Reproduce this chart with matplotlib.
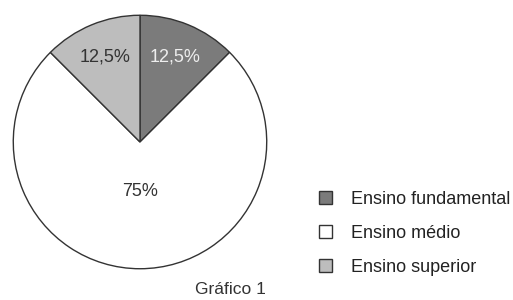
import numpy as np
import matplotlib.pyplot as plt

plt.rcParams['font.family'] = ['Liberation Sans', 'DejaVu Sans']

labels = ['Ensino fundamental', 'Ensino médio', 'Ensino superior']
values = [12.5, 75, 12.5]
pct_text = ['12,5%', '75%', '12,5%']
colors = ['#7b7b7b', '#ffffff', '#bdbdbd']
text_colors = ['#eeeeee', '#333333', '#333333']
label_dist = [0.73, 0.39, 0.73]

fig = plt.figure(figsize=(5.13, 3.0), dpi=100)
ax = fig.add_axes([12 / 513, 30 / 300, 256 / 513, 256 / 300])

wedges, _ = ax.pie(values, colors=colors, startangle=90, counterclock=False,
                   wedgeprops=dict(edgecolor='#333333', linewidth=1.0))
ax.set_xlim(-1.01, 1.01)
ax.set_ylim(-1.01, 1.01)
ax.set_aspect('equal')
ax.axis('off')

# percent labels at each wedge's middle angle
for w, t, c, d in zip(wedges, pct_text, text_colors, label_dist):
    mid = np.deg2rad((w.theta1 + w.theta2) / 2)
    ax.text(d * np.cos(mid), d * np.sin(mid), t, ha='center', va='center',
            fontsize=13, color=c)

fig.legend(wedges, labels, loc='upper left', bbox_to_anchor=(319 / 513, 1 - 191 / 300),
           frameon=False, fontsize=13, handlelength=0.7, handleheight=0.7,
           handletextpad=1.05, labelspacing=0.93, borderpad=0, borderaxespad=0,
           labelcolor='#222222')

fig.text(230 / 513, 1 - 290 / 300, 'Gráfico 1', ha='center', va='center',
         fontsize=12.5, color='#333333')

fig.savefig('out.png', dpi=100)
